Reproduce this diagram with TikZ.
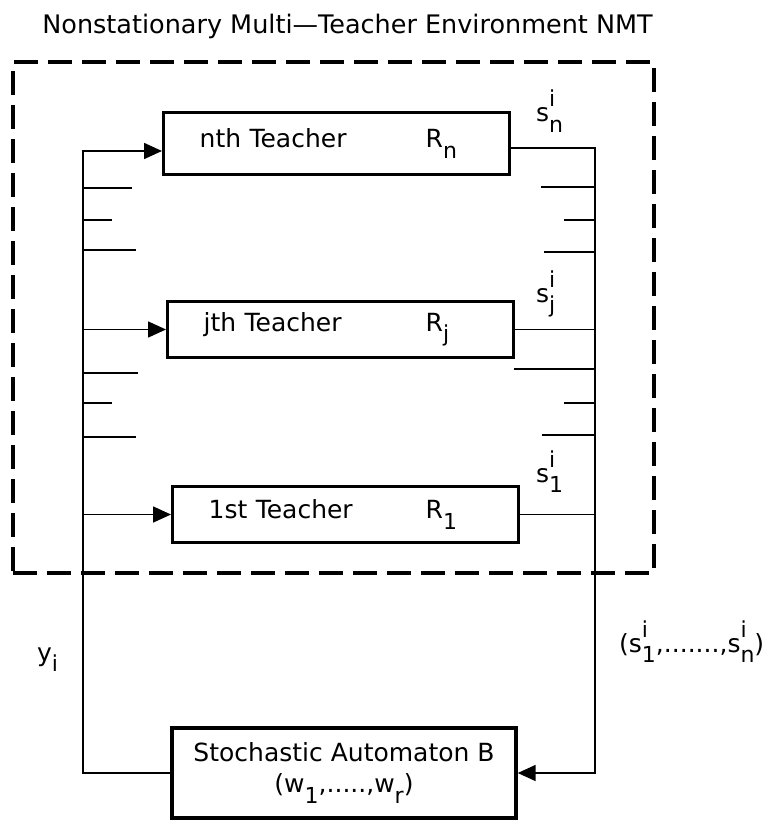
\documentclass[tikz,border=0pt]{standalone}
\usepackage{fontspec}
\setmainfont{DejaVu Sans}
\usetikzlibrary{arrows.meta,positioning}

\newcommand{\subsz}{\fontsize{22}{22}\selectfont}
\newcommand{\lo}[1]{\raisebox{-0.42em}{\subsz #1}}
\newcommand{\sig}[1]{s\makebox[0pt][l]{\raisebox{0.6em}{\subsz i}}\raisebox{-0.42em}{\subsz #1}}

\begin{document}
\begin{tikzpicture}[x=1pt, y=-1pt,
  box/.style={draw, line width=3.4pt, text width=274pt, inner xsep=36pt,
              inner ysep=0pt, minimum height=#1, align=left, anchor=west,
              font=\fontsize{25}{30}\selectfont},
  autobox/.style={draw, line width=3.4pt, minimum width=344pt,
              minimum height=90pt, align=center,
              font=\fontsize{25}{31}\selectfont},
  envbox/.style={draw, line width=4pt, dash pattern=on 24pt off 10pt},
  title/.style={inner sep=0pt, font=\fontsize{25.5}{30}\selectfont},
  lbl/.style={inner sep=0pt, anchor=base west, font=\fontsize{25}{30}\selectfont},
  wire/.style={line width=1.6pt},
  arr/.style={wire, -{Triangle[length=18pt,width=16pt]}},
  stub/.style={line width=2.4pt}
]
  \useasboundingbox (0,0) rectangle (772,821);

  % Environment NMT
  \node[envbox, minimum width=641pt, minimum height=511pt] (env) at (333.5,317.5) {};
  \node[title, above=21pt of env, xshift=14pt] (envtitle)
    {Nonstationary Multi---Teacher Environment NMT};

  % Teachers
  \node[box=62pt] (nth) at (162,143.5) {\makebox[226pt][l]{nth Teacher}R\lo{n}};
  \node[box=56pt] (jth) at (166,329.5) {\makebox[222pt][l]{jth Teacher}R\lo{j}};
  \node[box=56pt] (first) at (171,514.5) {\makebox[217pt][l]{1st Teacher}R\lo{1}};

  % Automaton
  \node[autobox] (automat) at (344,773) {Stochastic Automaton B\\(w\lo{1},.....,w\lo{r})};

  % bus ends
  \coordinate (ltop) at (83,151);
  \coordinate (rtop) at (595,148);

  % input side
  \draw[arr] (automat.west) -| (ltop) -- (ltop -| nth.west);
  \draw[arr] (ltop |- jth.west) -- (jth.west);
  \draw[arr] (ltop |- first.west) -- (first.west);

  % output side
  \draw[arr] (rtop -| nth.east) -- (rtop) |- (automat.east);
  \draw[wire] (jth.east) -- (rtop |- jth.east);
  \draw[wire] (first.east) -- (rtop |- first.east);

  % stubs for the other teachers
  \foreach \y/\x in {188/132, 220/112, 250/136, 373/138, 403/112, 437/136}
    \draw[stub] (83,\y) -- (\x,\y);
  \foreach \y/\x in {187/541, 220/564, 252/544, 369/514, 403/564, 435/542}
    \draw[stub] (\x,\y) -- (595,\y);

  % labels
  \node[lbl] (sn) at (536,122) {\sig{n}};
  \node[lbl] (sj) at (536,302) {\sig{j}};
  \node[lbl] (s1) at (536,482) {\sig{1}};
  \node[lbl] (yi) at (37,661) {y\lo{i}};
  \node[lbl] (svec) at (619,652) {(\sig{1},.......,\sig{n})};
\end{tikzpicture}
\end{document}
